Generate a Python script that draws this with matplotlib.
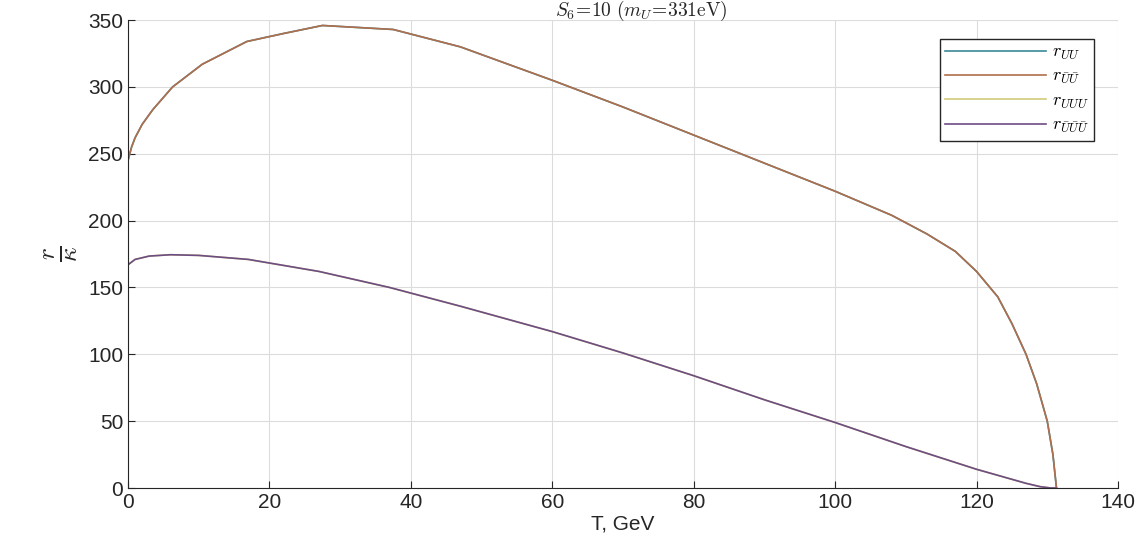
import numpy as np
import matplotlib
matplotlib.use("Agg")
import matplotlib.pyplot as plt

plt.rcParams['font.family'] = ['Liberation Sans', 'DejaVu Sans']
plt.rcParams['mathtext.fontset'] = 'cm'

# temperature grid and ratio curves
T_upper = [0, 0.5, 1, 2, 3.5, 6.3, 10.5, 16.8, 22, 27.5, 37.5, 47, 60, 70, 80, 90,
           100, 108, 113, 117, 120, 123, 125, 127, 128.5, 130, 130.8, 131.3]
r_bar2 = [245, 255, 262, 272, 283, 300, 317, 334, 340, 346, 343, 330, 305, 285, 264, 243,
          222, 204, 190, 177, 162, 143, 123, 100, 78, 50, 25, 0]

T_lower = [0, 1, 3, 6, 10, 17, 27, 37, 47, 60, 70, 80, 90, 100, 110, 120, 124, 127,
           129, 130.5, 131.3]
r_bar3 = [167, 171, 173.5, 174.5, 174, 171, 162, 150, 136, 117, 101, 84, 66, 49, 31, 14,
          8, 3.5, 1, 0, 0]

labels = [r'$r_{UU}$', r'$r_{\bar{U}\bar{U}}$', r'$r_{UUU}$', r'$r_{\bar{U}\bar{U}\bar{U}}$']
colors = ['#3a8a96', '#b06e4c', '#cfcc7a', '#6e4c84']

fig = plt.figure(figsize=(11.45, 5.59), dpi=100)
ax = fig.add_axes([0.1118, 0.127, 0.8646, 0.837])

ax.plot(T_upper, r_bar2, color=colors[0], lw=1.2, label=labels[0])
ax.plot(T_upper, r_bar2, color=colors[1], lw=1.2, label=labels[1])
ax.plot(T_lower, r_bar3, color=colors[2], lw=1.2, label=labels[2])
ax.plot(T_lower, r_bar3, color=colors[3], lw=1.2, label=labels[3])

ax.set_xlim(0, 140)
ax.set_ylim(0, 350)
ax.set_xticks(np.arange(0, 141, 20))
ax.set_yticks(np.arange(0, 351, 50))
ax.grid(True, color='#dcdcdc', lw=0.8)
ax.set_axisbelow(True)
for s in ['top', 'right']:
    ax.spines[s].set_visible(False)
for s in ['left', 'bottom']:
    ax.spines[s].set_color('#262626')
ax.tick_params(direction='in', labelsize=15, colors='#262626', length=5)

ax.set_xlabel('T, GeV', fontsize=15, color='#262626', labelpad=2)
ax.set_ylabel(r'$\frac{r}{\kappa}$', fontsize=26, color='#262626', labelpad=6)

leg = ax.legend(loc='upper right', bbox_to_anchor=(0.985, 0.98), fontsize=13,
                fancybox=False, framealpha=1, edgecolor='#262626',
                handlelength=5.6, handletextpad=0.3, borderpad=0.3, labelspacing=0.35)
leg.get_frame().set_linewidth(1.0)

fig.text(0.56, 0.972, r'$S_6\!=\!10$ $(m_U\!=\!331\mathrm{eV})$', fontsize=14,
         ha='center', va='baseline', color='#262626')

fig.savefig('out.png', dpi=100)
